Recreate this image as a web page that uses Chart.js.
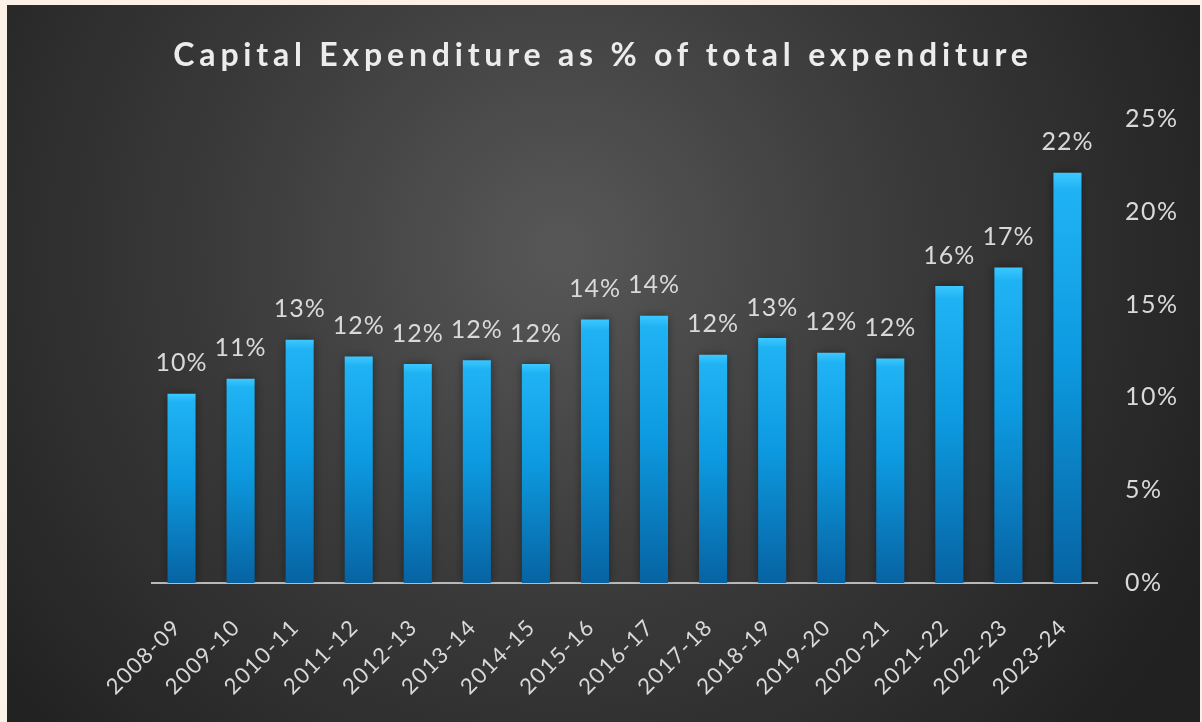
<!DOCTYPE html>
<html>
<head>
<meta charset="utf-8">
<title>Capital Expenditure</title>
<script src="https://cdn.jsdelivr.net/npm/chart.js@4.4.1/dist/chart.umd.min.js"></script>
<style>
  html, body { margin: 0; padding: 0; background: #fcf1e6; }
  #wrap { width: 1202px; height: 722px; }
</style>
</head>
<body>
<div id="wrap"><canvas id="capex" width="1202" height="722"></canvas></div>
<script>
// Financial years and capital expenditure share (% of total expenditure)
const years = ["2008-09", "2009-10", "2010-11", "2011-12", "2012-13", "2013-14", "2014-15", "2015-16",
  "2016-17", "2017-18", "2018-19", "2019-20", "2020-21", "2021-22", "2022-23", "2023-24"];
const capexShare = [10.2, 11.0, 13.1, 12.2, 11.8, 12.0, 11.8, 14.2, 14.4, 12.3, 13.2, 12.4, 12.1, 16.0, 17.0, 22.1];
const yTicks = [0, 5, 10, 15, 20, 25];

const titleText = "Capital Expenditure as % of total expenditure";
const textColor = "#d9d9d9";

// dark panel with a soft radial glow behind the chart
const panelBackground = {
  id: "panelBackground",
  beforeDraw(chart) {
    const ctx = chart.ctx;
    ctx.save();
    ctx.fillStyle = "#fcf1e6";
    ctx.fillRect(0, 0, chart.width, chart.height);
    const g = ctx.createRadialGradient(560, 250, 20, 560, 250, 720);
    g.addColorStop(0, "#575656");
    g.addColorStop(0.45, "#3c3b3b");
    g.addColorStop(1, "#212121");
    ctx.fillStyle = g;
    ctx.fillRect(7, 5, 1193, 717);
    ctx.restore();
    // a little tracking for the axis labels
    ctx.letterSpacing = "1.5px";
  },
  beforeDatasetsDraw(chart) {
    chart.ctx.letterSpacing = "0px";
  },
};

// spaced-out title drawn by hand (Chart.js title has no letter spacing)
const spacedTitle = {
  id: "spacedTitle",
  afterDraw(chart) {
    const ctx = chart.ctx;
    ctx.save();
    ctx.font = "bold 32px Lato";
    ctx.letterSpacing = "4.8px";
    ctx.fillStyle = "#ececec";
    ctx.textAlign = "center";
    ctx.textBaseline = "alphabetic";
    ctx.fillText(titleText, 603, 66);
    ctx.restore();
  },
};

// rounded percentage above each bar
const valueLabels = {
  id: "valueLabels",
  afterDatasetsDraw(chart) {
    const ctx = chart.ctx;
    const meta = chart.getDatasetMeta(0);
    ctx.save();
    ctx.font = "25px Lato";
    ctx.letterSpacing = "1px";
    ctx.fillStyle = textColor;
    ctx.textAlign = "center";
    ctx.textBaseline = "bottom";
    meta.data.forEach((bar, i) => {
      ctx.fillText(Math.round(capexShare[i]) + "%", bar.x, bar.y - 18);
    });
    ctx.restore();
  },
};

// dark halo around the bars
const barShadow = {
  id: "barShadow",
  beforeDatasetDraw(chart) {
    chart.ctx.save();
    chart.ctx.shadowColor = "rgba(10, 10, 10, 0.55)";
    chart.ctx.shadowBlur = 9;
  },
  afterDatasetDraw(chart) {
    chart.ctx.restore();
  },
};

function barGradient(context) {
  const chart = context.chart;
  if (!chart.chartArea) return "#0f9ee6";
  const y = chart.scales.y;
  const top = y.getPixelForValue(capexShare[context.dataIndex]);
  const bottom = y.getPixelForValue(0);
  const g = chart.ctx.createLinearGradient(0, top, 0, bottom);
  g.addColorStop(0, "#3cc8ff");
  g.addColorStop(0.04, "#20b3f4");
  g.addColorStop(0.45, "#0d9ae0");
  g.addColorStop(1, "#0763a2");
  return g;
}

const ctx = document.getElementById("capex").getContext("2d");
new Chart(ctx, {
  type: "bar",
  data: {
    labels: years,
    datasets: [
      {
        label: "Capital expenditure",
        data: capexShare,
        backgroundColor: barGradient,
        borderWidth: 0,
        categoryPercentage: 1,
        barPercentage: 0.475,
      },
    ],
  },
  options: {
    responsive: false,
    animation: false,
    layout: { padding: { top: 119, left: 152, right: 25, bottom: 17 } },
    plugins: {
      legend: { display: false },
      tooltip: { enabled: false },
      title: { display: false },
    },
    scales: {
      x: {
        grid: { display: false, drawTicks: false },
        border: { display: true, color: "#b9b9b9", width: 2 },
        ticks: {
          color: textColor,
          font: { family: "Lato", size: 22 },
          maxRotation: 45,
          minRotation: 45,
          padding: 31,
          labelOffset: -4,
        },
        afterFit(axis) {
          axis.height = 122;
        },
      },
      y: {
        position: "right",
        min: 0,
        max: 25,
        afterBuildTicks(axis) {
          axis.ticks = yTicks.map((v) => ({ value: v }));
        },
        grid: { display: false, drawTicks: false },
        border: { display: false },
        ticks: {
          color: textColor,
          font: { family: "Lato", size: 25 },
          padding: 28,
          callback: (v) => v + "%",
        },
        afterFit(axis) {
          axis.width = 80;
        },
      },
    },
  },
  plugins: [panelBackground, barShadow, valueLabels, spacedTitle],
});
</script>
</body>
</html>
